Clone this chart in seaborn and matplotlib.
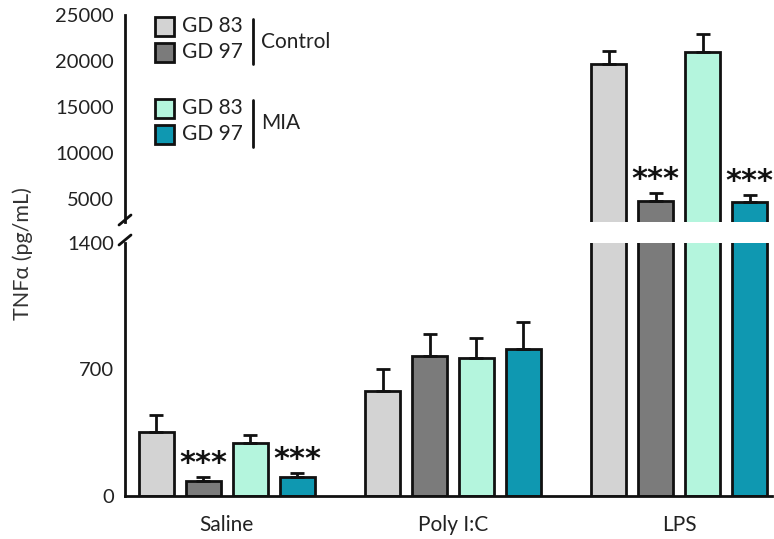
import matplotlib
matplotlib.use("Agg")
import matplotlib.pyplot as plt
import seaborn as sns
import pandas as pd
import numpy as np
from matplotlib.patches import Rectangle
from matplotlib.lines import Line2D

sns.set_style("white")
plt.rcParams['font.family'] = ['Lato', 'DejaVu Sans']

# ---- data ----
treatments = ["Saline", "Poly I:C", "LPS"]
groups = ["Control GD 83", "Control GD 97", "MIA GD 83", "MIA GD 97"]
ctrl_gd83_mean = [353, 580, 19640]
ctrl_gd83_sem = [93, 125, 1450]
ctrl_gd97_mean = [83, 772, 4815]
ctrl_gd97_sem = [23, 125, 870]
mia_gd83_mean = [294, 765, 20945]
mia_gd83_sem = [44, 108, 1950]
mia_gd97_mean = [105, 816, 4674]
mia_gd97_sem = [23, 149, 790]
significant = {"Control GD 97": [True, False, True], "MIA GD 97": [True, False, True]}
colors = ["#d3d3d3", "#7b7b7b", "#b4f5dd", "#0f98b1"]
legend_labels = ["GD 83", "GD 97", "GD 83", "GD 97"]

means = [ctrl_gd83_mean, ctrl_gd97_mean, mia_gd83_mean, mia_gd97_mean]
sems = [ctrl_gd83_sem, ctrl_gd97_sem, mia_gd83_sem, mia_gd97_sem]
rows = []
for g, m, s in zip(groups, means, sems):
    for t, mv, sv in zip(treatments, m, s):
        rows.append({"treatment": t, "group": g, "value": mv, "err": sv})
df = pd.DataFrame(rows)

W, H = 774, 539
fig = plt.figure(figsize=(W / 100, H / 100), dpi=100)

def fx(px):
    return px / W

def fy(py):
    return 1 - py / H

left = fx(125)
width = fx(772) - left
ax_top = fig.add_axes([left, fy(222), width, fy(15) - fy(222)])
ax_bot = fig.add_axes([left, fy(496), width, fy(243) - fy(496)])

text_color = "#222222"
for ax, ylim in [(ax_top, (2500, 25000)), (ax_bot, (0, 1400))]:
    sns.barplot(data=df, x="treatment", y="value", hue="group", order=treatments,
                hue_order=groups, palette=colors, width=0.83, gap=0.25,
                edgecolor="#111111", linewidth=2, errorbar=None, legend=False,
                saturation=1, ax=ax)
    bars = list(ax.patches)
    # error bars (upward only)
    for hi, g in enumerate(groups):
        for ti, t in enumerate(treatments):
            p = bars[hi * len(treatments) + ti]
            xc = p.get_x() + p.get_width() / 2
            row = df[(df["group"] == g) & (df["treatment"] == t)].iloc[0]
            val = float(row["value"])
            er = float(row["err"])
            ax.errorbar([xc], [val], yerr=[[0], [er]], fmt="none",
                        ecolor="#111111", elinewidth=2, capsize=5, capthick=2, zorder=1)
            if g in significant and significant[g][ti]:
                top = val + er
                if ylim[0] <= top <= ylim[1]:
                    ax.annotate("***", (xc, top), xytext=(0, -1), textcoords="offset points",
                                ha="center", va="bottom", fontsize=22, color="#111111",
                                family="DejaVu Sans", fontweight="bold")
    ax.set_ylim(*ylim)
    ax.set_xlim(-0.45, 2.41)
    ax.set_xlabel("")
    ax.set_ylabel("")
    for s in ["top", "right"]:
        ax.spines[s].set_visible(False)
    ax.spines["left"].set_linewidth(2)
    ax.spines["left"].set_color("#111111")
    ax.tick_params(axis="y", direction="out", length=6, width=2, color="#111111",
                   labelsize=14.5, labelcolor=text_color, pad=2)

ax_top.spines["bottom"].set_visible(False)
ax_top.set_xticks([])
ax_top.set_yticks([5000, 10000, 15000, 20000, 25000])
ax_top.set_yticklabels(["5000", "10000", "15000", "20000", "25000"])

ax_bot.set_yticks([0, 700, 1400])
ax_bot.set_yticklabels(["0", "700", "1400"])
ax_bot.spines["bottom"].set_linewidth(2)
ax_bot.spines["bottom"].set_color("#111111")
ax_bot.tick_params(axis="x", direction="out", length=6, width=2, color="#111111",
                   labelsize=15, labelcolor=text_color, pad=8)

# break marks
for py in (220, 240):
    fig.add_artist(Line2D([fx(119), fx(131)], [fy(py + 5), fy(py - 5)], color="#111111",
                          linewidth=2, transform=fig.transFigure))

# y label
fig.text(fx(23), fy(254), "TNF\u03b1 (pg/mL)", rotation=90, ha="center", va="center",
         fontsize=15.5, color="#333333")

# custom legend
sq = 19
sq_tops = [17, 43, 99, 125]
for c, lab, top in zip(colors, legend_labels, sq_tops):
    fig.add_artist(Rectangle((fx(155), fy(top + sq)), fx(sq), fy(0) - fy(sq), facecolor=c,
                             edgecolor="#111111", linewidth=2, transform=fig.transFigure))
    fig.text(fx(182), fy(top + sq / 2), lab, ha="left", va="center", fontsize=15,
             color=text_color)
for (y0, y1, lab) in [(19, 64, "Control"), (100, 147, "MIA")]:
    fig.add_artist(Line2D([fx(253), fx(253)], [fy(y0), fy(y1)], color="#111111",
                          linewidth=2, transform=fig.transFigure))
    fig.text(fx(261), fy((y0 + y1) / 2), lab, ha="left", va="center", fontsize=15,
             color=text_color)

fig.savefig("out.png", dpi=100)
